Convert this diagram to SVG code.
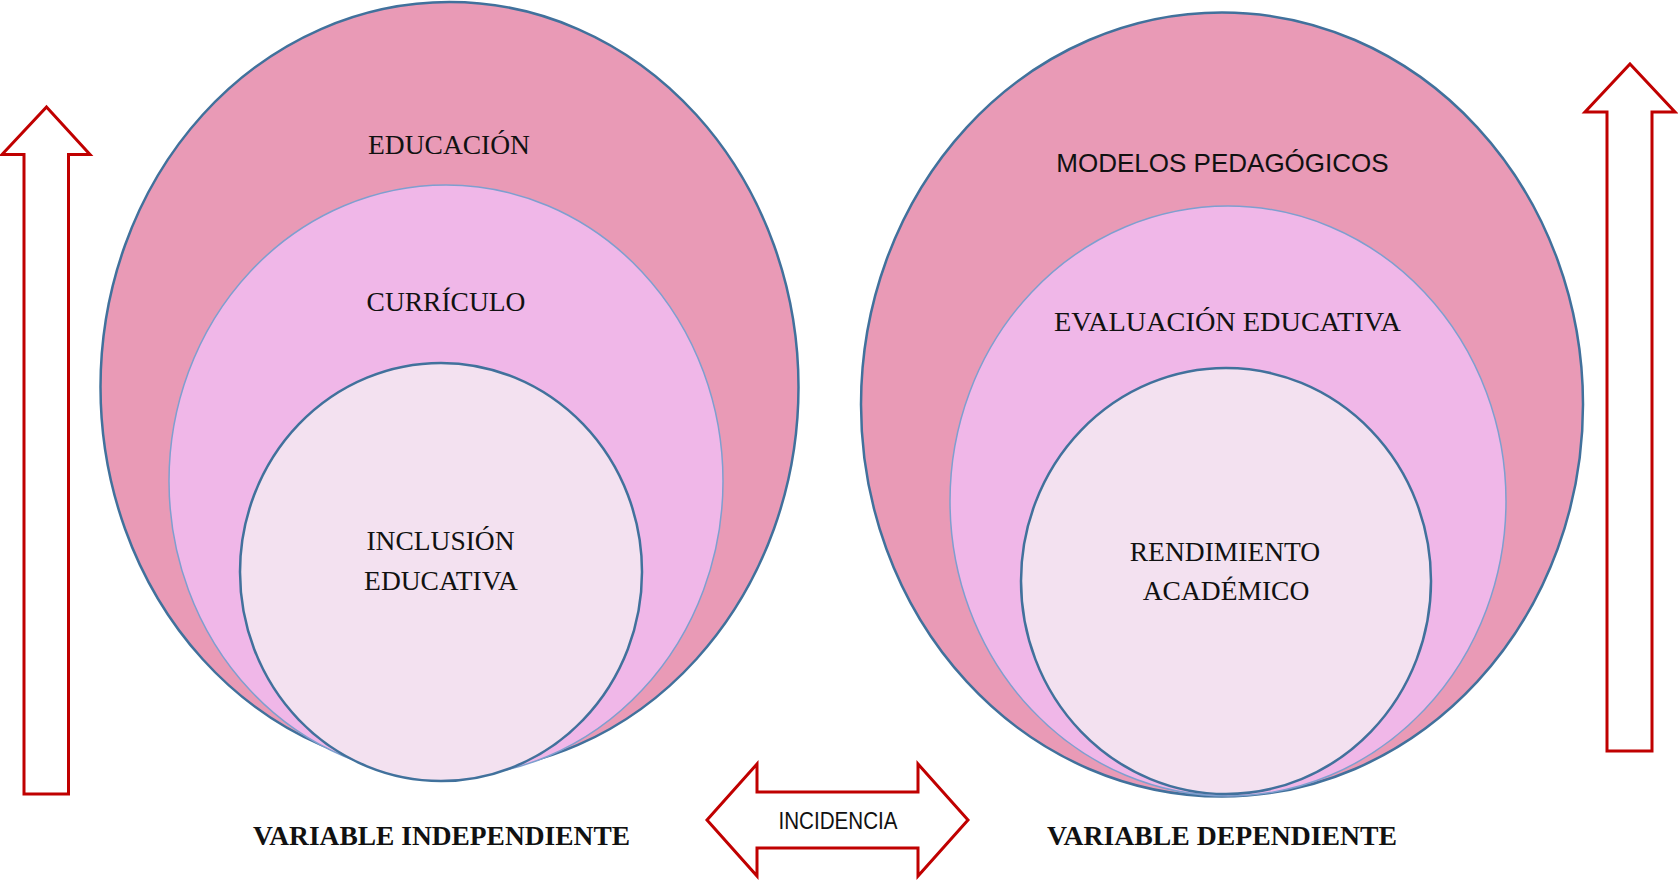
<svg xmlns="http://www.w3.org/2000/svg" width="1678" height="880" viewBox="0 0 1678 880">
<style>
.outer{fill:#E99AB6;stroke:#41719C;stroke-width:2.5}
.mid{fill:#F0B7E8;stroke:#7E9FCF;stroke-width:1.5}
.inner{fill:#F3E1F0;stroke:#41719C;stroke-width:2.5}
.arr{fill:#FFFFFF;stroke:#C00000;stroke-width:3;stroke-linejoin:miter}
.serif{font-family:"Liberation Serif","Times New Roman",serif;font-size:27.5px;fill:#111;text-anchor:middle}
.bold{font-family:"Liberation Serif","Times New Roman",serif;font-size:27.5px;font-weight:bold;fill:#111;text-anchor:middle}
.sans{font-family:"Liberation Sans",Arial,sans-serif;fill:#111;text-anchor:middle}
</style>
<rect width="1678" height="880" fill="#FFFFFF"/>
<g id="left-set">
<g id="educacion"><ellipse class="outer" cx="449.5" cy="387" rx="349" ry="385"/><text class="serif" x="449" y="154">EDUCACIÓN</text></g>
<g id="curriculo"><ellipse class="mid" cx="446" cy="481" rx="277" ry="296"/><text class="serif" x="446" y="311">CURRÍCULO</text></g>
<g id="inclusion"><ellipse class="inner" cx="441" cy="572" rx="201" ry="209"/><text class="serif" x="440.5" y="550">INCLUSIÓN</text><text class="serif" x="441" y="590">EDUCATIVA</text></g>
</g>
<g id="right-set">
<g id="modelos"><ellipse class="outer" cx="1222" cy="404.5" rx="361" ry="392"/><text class="sans" font-size="26" x="1222.5" y="172">MODELOS PEDAGÓGICOS</text></g>
<g id="evaluacion"><ellipse class="mid" cx="1228" cy="501" rx="278" ry="295"/><text class="serif" x="1227.5" y="331" textLength="347" lengthAdjust="spacingAndGlyphs">EVALUACIÓN EDUCATIVA</text></g>
<g id="rendimiento"><ellipse class="inner" cx="1226" cy="581" rx="205" ry="213"/><text class="serif" x="1225" y="561">RENDIMIENTO</text><text class="serif" x="1226" y="600">ACADÉMICO</text></g>
</g>
<g id="connectors">
<polygon id="arrow-left" class="arr" points="46.5,107 90,154.5 68.5,154.5 68.5,794 24,794 24,154.5 2,154.5"/>
<polygon id="arrow-right" class="arr" points="1630,64 1675,112 1652,112 1652,751 1607,751 1607,112 1585,112"/>
<g id="incidencia">
<polygon class="arr" points="707,820 757,764 757,792 918,792 918,764 968,820 918,876 918,848 757,848 757,876"/>
<text class="sans" font-size="24" x="838" y="829" textLength="119" lengthAdjust="spacingAndGlyphs">INCIDENCIA</text>
</g>
</g>
<g id="labels">
<text class="bold" x="441.5" y="845" textLength="377" lengthAdjust="spacingAndGlyphs">VARIABLE INDEPENDIENTE</text>
<text class="bold" x="1222" y="845" textLength="350" lengthAdjust="spacingAndGlyphs">VARIABLE DEPENDIENTE</text>
</g>
</svg>
